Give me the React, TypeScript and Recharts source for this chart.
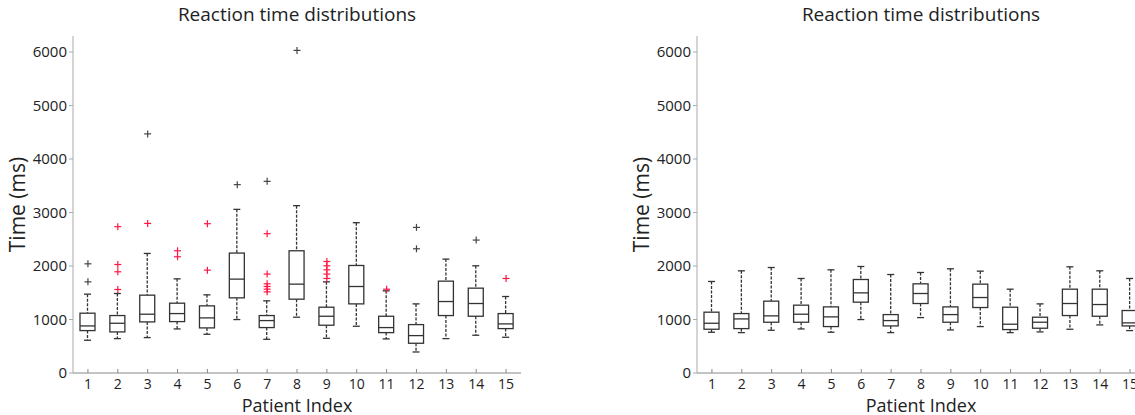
import React from 'react';
import { ComposedChart, Bar, Scatter, XAxis, YAxis } from 'recharts';

const patients = [1, 2, 3, 4, 5, 6, 7, 8, 9, 10, 11, 12, 13, 14, 15];

// left panel (with outliers)
const leftLow = [612, 643, 662, 824, 724, 999, 630, 1043, 649, 874, 637, 393, 643, 706, 668];
const leftQ1 = [793, 768, 955, 961, 843, 1405, 849, 1380, 893, 1292, 755, 556, 1074, 1061, 830];
const leftMed = [880, 930, 1099, 1111, 1030, 1755, 980, 1661, 1061, 1617, 849, 699, 1336, 1299, 918];
const leftQ3 = [1118, 1074, 1455, 1305, 1255, 2242, 1074, 2285, 1230, 2010, 1061, 905, 1717, 1586, 1111];
const leftHigh = [1474, 1486, 2235, 1760, 1461, 3059, 1349, 3128, 1704, 2810, 1536, 1292, 2129, 2004, 1430];

const redOutliers = [
  [2, 2735], [2, 2028], [2, 1892], [2, 1561],
  [3, 2797],
  [4, 2285], [4, 2173],
  [5, 2791], [5, 1923],
  [7, 2604], [7, 1849], [7, 1667], [7, 1617], [7, 1567], [7, 1517],
  [9, 2085], [9, 2004], [9, 1929], [9, 1849], [9, 1767],
  [11, 1567],
  [15, 1767],
];
const grayOutliers = [
  [1, 2041], [1, 1704], [3, 4470], [6, 3521], [7, 3583], [8, 6031],
  [12, 2722], [12, 2322], [14, 2485],
];

// right panel
const rightLow = [762, 755, 799, 824, 762, 999, 755, 1036, 805, 868, 755, 768, 818, 899, 793];
const rightQ1 = [818, 830, 949, 949, 868, 1324, 880, 1299, 949, 1224, 812, 837, 1074, 1061, 880];
const rightMed = [930, 1011, 1068, 1099, 1049, 1498, 980, 1486, 1092, 1411, 912, 949, 1299, 1280, 937];
const rightQ3 = [1137, 1111, 1343, 1268, 1236, 1748, 1092, 1667, 1236, 1661, 1230, 1043, 1567, 1567, 1168];
const rightHigh = [1711, 1910, 1972, 1767, 1929, 1991, 1841, 1879, 1948, 1904, 1567, 1292, 1985, 1910, 1767];

const yTicks = [0, 1000, 2000, 3000, 4000, 5000, 6000];

const FONT = '"Open Sans", "Noto Sans", sans-serif';
const INK = '#333';

const buildRows = (lo: number[], q1: number[], med: number[], q3: number[], hi: number[]) =>
  patients.map((p, i) => ({ patient: p, lo: lo[i], q1: q1[i], med: med[i], q3: q3[i], hi: hi[i] }));

const toPoints = (list: number[][]) => list.map(([p, v]) => ({ patient: p, value: v }));

const BoxShape = (props: any) => {
  const { x, y, width, height, payload } = props;
  if (!payload) return null;
  const { lo, q1, med, q3, hi } = payload;
  const yOf = (v: number) => y + ((hi - v) / (hi - lo)) * height;
  const cx = x + width / 2;
  const half = 7.5;
  const cap = 3.5;
  const yHi = yOf(hi), yQ3 = yOf(q3), yMed = yOf(med), yQ1 = yOf(q1), yLo = yOf(lo);
  return (
    <g stroke={INK} fill="none" strokeWidth={1.3}>
      <line x1={cx} x2={cx} y1={yHi} y2={yQ3} strokeDasharray="3 1.5" />
      <line x1={cx} x2={cx} y1={yQ1} y2={yLo} strokeDasharray="3 1.5" />
      <line x1={cx - cap} x2={cx + cap} y1={yHi} y2={yHi} />
      <line x1={cx - cap} x2={cx + cap} y1={yLo} y2={yLo} />
      <rect x={cx - half} y={yQ3} width={half * 2} height={yQ1 - yQ3} fill="#fff" />
      <line x1={cx - half} x2={cx + half} y1={yMed} y2={yMed} />
    </g>
  );
};

const plus = (color: string) => (props: any) => {
  const { cx, cy } = props;
  return (
    <g stroke={color} strokeWidth={1.2}>
      <line x1={cx - 3.5} x2={cx + 3.5} y1={cy} y2={cy} />
      <line x1={cx} x2={cx} y1={cy - 3.5} y2={cy + 3.5} />
    </g>
  );
};

interface PanelProps {
  left: number;
  rows: any[];
  red?: any[];
  gray?: any[];
}

const Panel: React.FC<PanelProps> = ({ left, rows, red, gray }) => {
  const width = 560;
  const height = 415;
  return (
    <div style={{ position: 'absolute', left, top: 0, width, height }}>
      <div
        style={{
          position: 'absolute', left: 73, top: 1, width: 448, textAlign: 'center',
          fontFamily: FONT, fontSize: 19, color: '#222', lineHeight: '26px',
        }}
      >
        Reaction time distributions
      </div>
      <ComposedChart
        width={width}
        height={height}
        data={rows}
        margin={{ top: 36, right: width - 73 - 448, bottom: 0, left: 0 }}
      >
        <XAxis
          dataKey="patient"
          type="number"
          domain={[0.5, 15.5]}
          ticks={patients}
          interval={0}
          allowDataOverflow
          height={42}
          stroke="#888"
          tickSize={-4}
          tickMargin={10}
          tick={{ fill: '#222', fontSize: 14, fontFamily: FONT }}
          label={{ value: 'Patient Index', position: 'insideBottom', offset: 3, fill: '#222', fontSize: 18, fontFamily: FONT }}
        />
        <YAxis
          type="number"
          domain={[0, 6300]}
          ticks={yTicks}
          allowDataOverflow
          width={73}
          stroke="#aaa"
          tickSize={4}
          tickMargin={2}
          tick={{ fill: '#222', fontSize: 15, fontFamily: FONT }}
          label={{ value: 'Time (ms)', angle: -90, position: 'insideLeft', offset: 0, dx: 18, fill: '#222', fontSize: 21, fontFamily: FONT, style: { textAnchor: 'middle' } }}
        />
        <Bar dataKey={(d: any) => [d.lo, d.hi]} barSize={15} shape={<BoxShape />} isAnimationActive={false} />
        {red && <Scatter data={red} dataKey="value" shape={plus('#ff1744')} isAnimationActive={false} />}
        {gray && <Scatter data={gray} dataKey="value" shape={plus('#444')} isAnimationActive={false} />}
      </ComposedChart>
    </div>
  );
};

const App: React.FC = () => {
  const leftRows = buildRows(leftLow, leftQ1, leftMed, leftQ3, leftHigh);
  const rightRows = buildRows(rightLow, rightQ1, rightMed, rightQ3, rightHigh);
  return (
    <div style={{ position: 'absolute', left: 0, top: 0, width: 1135, height: 415, overflow: 'hidden', background: '#fff' }}>
      <Panel left={0} rows={leftRows} red={toPoints(redOutliers)} gray={toPoints(grayOutliers)} />
      <Panel left={624} rows={rightRows} />
    </div>
  );
};

export default App;
